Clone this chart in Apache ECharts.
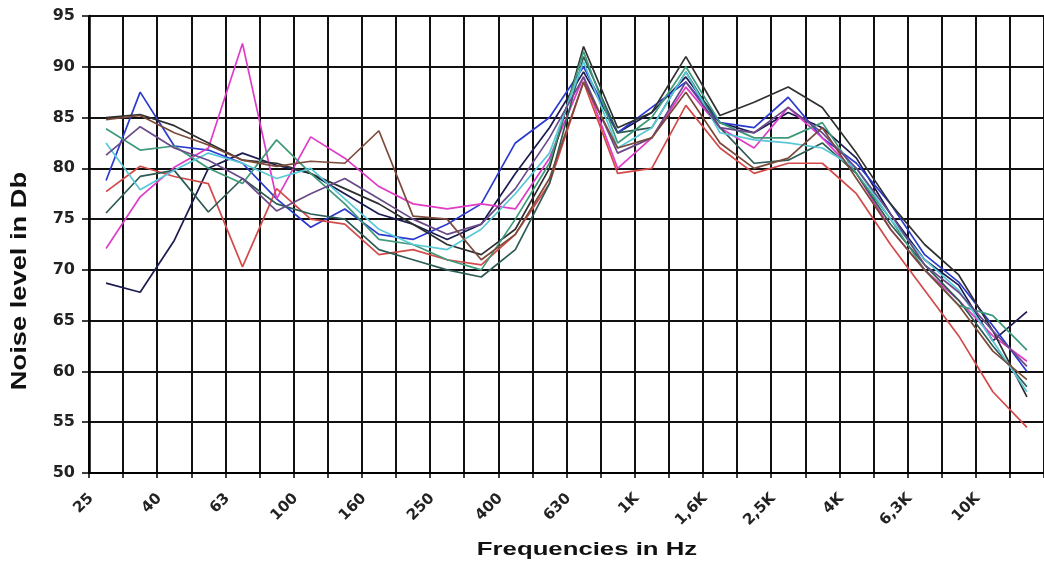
<!DOCTYPE html>
<html>
<head>
<meta charset="utf-8">
<script src="https://cdn.jsdelivr.net/npm/echarts@6/dist/echarts.min.js"></script>
<style>
html,body{margin:0;padding:0;background:#fff;}
#chart{width:1044px;height:566px;}
</style>
</head>
<body>
<div id="chart"></div>
<script>
const categories = ['25','31.5','40','50','63','80','100','125','160','200','250','315','400','500','630','800','1K','1,25K','1,6K','2K','2,5K','3,15K','4K','5K','6,3K','8K','10K','12,5K'];
const yTicks = [50,55,60,65,70,75,80,85,90,95];

const seriesNavy    = [68.7,67.8,72.9,80.0,81.5,80.3,79.5,77.5,75.5,74.5,73.0,74.5,79.5,84.0,89.5,83.5,85.5,89.0,84.5,83.5,85.5,84.0,81.0,75.5,71.0,68.5,63.0,65.9];
const seriesBlue    = [78.8,87.5,82.2,81.8,80.5,77.0,74.2,76.0,73.5,73.0,74.5,76.5,82.5,85.0,90.0,83.5,86.0,88.5,84.5,84.0,87.0,83.0,80.5,76.5,71.5,68.8,64.5,60.0];
const seriesMagenta = [72.1,77.2,80.1,82.0,92.3,77.0,83.1,81.0,78.2,76.5,76.0,76.5,76.0,81.0,89.0,80.0,83.0,88.0,84.0,82.0,86.0,83.0,79.5,74.0,70.0,67.0,63.5,61.0];
const seriesRed     = [77.7,80.2,79.2,78.5,70.3,78.0,75.0,74.5,71.5,72.0,71.0,70.5,73.5,78.5,88.5,79.5,80.0,86.2,82.0,79.5,80.5,80.5,77.5,72.5,68.0,63.5,58.0,54.5];
const seriesBlack   = [85.0,85.3,84.2,82.5,80.8,80.5,79.5,78.0,76.5,74.5,72.5,71.5,74.0,80.0,92.0,84.0,85.5,91.0,85.2,86.5,88.0,86.0,81.5,76.5,72.5,69.5,64.0,57.5];
const seriesDkTeal  = [75.6,79.2,79.8,75.7,79.0,76.5,75.5,75.0,72.0,71.0,70.0,69.3,72.0,78.5,91.0,83.5,84.0,89.5,84.0,80.5,80.8,82.5,79.5,74.5,70.5,67.0,62.5,58.5];
const seriesGreen   = [83.9,81.8,82.2,80.0,78.5,82.8,79.5,76.5,73.0,72.5,71.0,70.0,75.0,80.5,91.5,82.5,85.0,90.0,84.5,83.0,83.0,84.5,79.5,75.0,70.0,66.5,65.5,62.1];
const seriesCyan    = [82.5,77.9,79.8,81.5,80.5,79.0,80.0,77.0,74.0,72.5,72.0,74.0,77.5,81.5,90.5,82.0,84.0,89.5,83.5,82.8,82.5,82.0,80.0,75.0,71.0,68.0,63.0,58.0];
const seriesPurple  = [81.3,84.1,82.0,80.8,79.0,75.8,77.5,79.0,77.0,75.0,73.5,74.5,78.0,83.0,89.0,81.5,83.0,88.5,84.0,83.5,86.0,83.5,80.0,75.5,70.5,67.8,64.0,60.5];
const seriesBrown   = [84.8,85.2,83.5,82.3,80.8,80.2,80.7,80.5,83.7,75.3,75.0,71.0,73.5,79.0,88.5,82.0,83.0,87.5,82.5,80.0,81.0,84.0,79.0,74.0,70.0,66.5,62.0,59.2];

const seriesList = [
  {name:'S1', data:seriesNavy,    color:'#1c1c50'},
  {name:'S2', data:seriesBlue,    color:'#2b3bd0'},
  {name:'S3', data:seriesMagenta, color:'#e03cc8'},
  {name:'S4', data:seriesRed,     color:'#d24a4a'},
  {name:'S5', data:seriesBlack,   color:'#303030'},
  {name:'S6', data:seriesDkTeal,  color:'#2d5b55'},
  {name:'S7', data:seriesGreen,   color:'#3f9a7a'},
  {name:'S8', data:seriesCyan,    color:'#59c8d8'},
  {name:'S9', data:seriesPurple,  color:'#6a4a8a'},
  {name:'S10', data:seriesBrown,  color:'#7a4a3a'}
];

const titleGraphics = [
  {type:'text', x:587, y:550, scaleX:1.43, style:{text:'Frequencies in Hz', font:'bold 18px "Liberation Sans", Arial, sans-serif', fill:'#111', align:'center', verticalAlign:'middle'}},
  {type:'text', x:20, y:281, rotation:Math.PI/2, scaleX:1.24, style:{text:'Noise level in Db', font:'bold 22px "Liberation Sans", Arial, sans-serif', fill:'#111', align:'center', verticalAlign:'middle'}}
];

const chart = echarts.init(document.getElementById('chart'), null, {renderer:'canvas'});
chart.setOption({
  backgroundColor:'#ffffff',
  animation:false,
  grid:{left:89, right:-6, top:16, bottom:93, containLabel:false},
  xAxis:{
    type:'category',
    data:categories,
    boundaryGap:true,
    axisLine:{show:true, lineStyle:{color:'#000', width:2}},
    axisTick:{show:true, interval:0, length:5, inside:false, lineStyle:{color:'#000', width:1.5}},
    splitLine:{show:true, interval:0, lineStyle:{color:'#111', width:2}},
    axisLabel:{show:false}
  },
  yAxis:{
    type:'value',
    min:yTicks[0], max:yTicks[yTicks.length-1], interval:5,
    axisLine:{show:true, lineStyle:{color:'#000', width:2.5}},
    axisTick:{show:true, length:7, lineStyle:{color:'#000', width:1.5}},
    splitLine:{show:true, lineStyle:{color:'#111', width:2}},
    axisLabel:{margin:14, fontSize:16, fontWeight:'bold', color:'#222', fontFamily:'DejaVu Sans, sans-serif'}
  },
  series: seriesList.map(s=>({
    name:s.name, type:'line', data:s.data, symbol:'none', smooth:false,
    lineStyle:{color:s.color, width:1.7}, itemStyle:{color:s.color}
  })),
  graphic: titleGraphics
});

// Rotated category labels (every second band), positioned through the axis scale
const labelGraphics = [];
for (let i = 0; i < categories.length; i += 2) {
  const p = chart.convertToPixel({gridIndex:0}, [i, yTicks[0]]);
  labelGraphics.push({
    type:'text', x:p[0] - 15, y:p[1] + 23, rotation:Math.PI/4,
    style:{text:categories[i], font:'bold 15px "DejaVu Sans", sans-serif', fill:'#222', align:'right', verticalAlign:'middle'}
  });
}
chart.setOption({graphic: titleGraphics.concat(labelGraphics)});
</script>
</body>
</html>
